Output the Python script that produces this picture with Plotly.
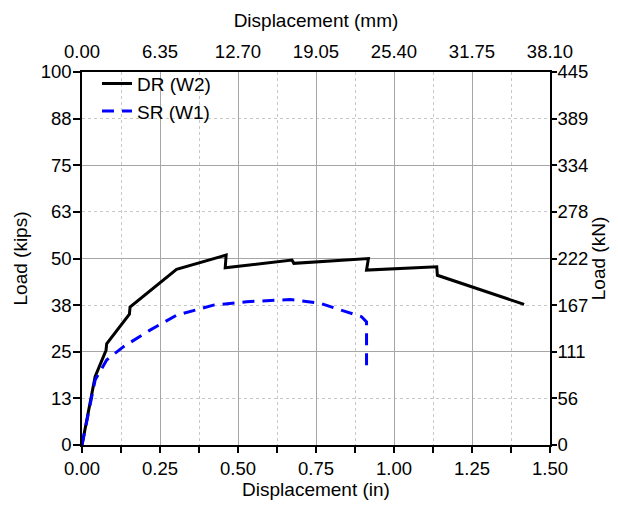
import plotly.graph_objects as go

# DR (W2) curve, displacement (in) vs load (kips)
dr_x = [0.0, 0.040, 0.042, 0.077, 0.079, 0.152, 0.154, 0.303, 0.462, 0.459, 0.673, 0.679, 0.918, 0.912, 1.137, 1.139, 1.417]
dr_y = [0.0, 17.5, 18.3, 25.4, 27.1, 35.1, 37.0, 47.1, 50.9, 47.5, 49.6, 48.7, 50.0, 46.9, 47.8, 45.5, 37.7]

# SR (W1) curve
sr_x = [0.0, 0.042, 0.079, 0.132, 0.218, 0.303, 0.421, 0.528, 0.667, 0.763, 0.848, 0.896, 0.912, 0.912]
sr_y = [0.0, 17.4, 22.8, 26.3, 30.8, 34.8, 37.5, 38.4, 39.0, 38.0, 35.7, 34.4, 33.0, 19.4]

# Axis ticks
in_ticks = [0.0, 0.25, 0.5, 0.75, 1.0, 1.25, 1.5]
mm_labels = ["0.00", "6.35", "12.70", "19.05", "25.40", "31.75", "38.10"]
kip_ticks = [0, 12.5, 25, 37.5, 50, 62.5, 75, 87.5, 100]
kip_labels = ["0", "13", "25", "38", "50", "63", "75", "88", "100"]
kn_labels = ["0", "56", "111", "167", "222", "278", "334", "389", "445"]

FONT = "Liberation Sans, Arial, sans-serif"
fs = 18.5
ts = 19

fig = go.Figure()
fig.add_trace(go.Scatter(x=dr_x, y=dr_y, mode="lines", name="DR (W2)",
                         line=dict(color="black", width=3)))
fig.add_trace(go.Scatter(x=sr_x, y=sr_y, mode="lines", name="SR (W1)",
                         line=dict(color="#0000ff", width=3, dash="12px,8px")))
# empty helper traces so the secondary axes are drawn
fig.add_trace(go.Scatter(x=[None], y=[None], xaxis="x2", yaxis="y2", mode="lines",
                         showlegend=False, hoverinfo="skip"))
fig.add_trace(go.Scatter(x=[None], y=[None], xaxis="x", yaxis="y3", mode="lines",
                         showlegend=False, hoverinfo="skip"))

fig.update_layout(
    width=610, height=504,
    margin=dict(l=74, r=68, t=64, b=67, autoexpand=False),
    paper_bgcolor="white", plot_bgcolor="white",
    font=dict(family=FONT, size=fs, color="black"),
    showlegend=True,
    legend=dict(x=0.032, y=1.02, xanchor="left", yanchor="top",
                bgcolor="rgba(0,0,0,0)", font=dict(size=ts), tracegroupgap=0),
    xaxis=dict(range=[0, 1.5], tickvals=in_ticks, tickformat=".2f", automargin=False,
               ticks="outside", ticklen=6, tickcolor="black", tickwidth=1.5,
               showline=True, linecolor="black", linewidth=1.5,
               showgrid=True, gridcolor="#a6a6a6", gridwidth=1,
               zeroline=False,
               minor=dict(dtick=0.125, tick0=0, ticks="outside", ticklen=6, tickcolor="black",
                          tickwidth=1.5, showgrid=True, gridcolor="#c8c8c8", griddash="dot"),
               title=dict(text="Displacement (in)", standoff=5, font=dict(size=ts)),
               tickfont=dict(size=fs)),
    xaxis2=dict(overlaying="x", side="top", anchor="y2", range=[0, 1.5], automargin=False,
                tickmode="array", tickvals=in_ticks, ticktext=mm_labels,
                ticks="outside", ticklen=5, tickcolor="rgba(0,0,0,0)",
                showline=True, linecolor="black", linewidth=1.5,
                showgrid=False, zeroline=False,
                title=dict(text="Displacement (mm)", standoff=8, font=dict(size=ts)),
                tickfont=dict(size=fs)),
    yaxis=dict(range=[0, 100], tickmode="array", tickvals=kip_ticks, ticktext=kip_labels,
               automargin=False,
               ticks="outside", ticklen=7, tickcolor="black", tickwidth=1.5,
               ticklabelstandoff=-2,
               showline=True, linecolor="black", linewidth=1.5,
               showgrid=False, zeroline=False,
               title=dict(text="Load (kips)", standoff=8, font=dict(size=ts)),
               tickfont=dict(size=fs)),
    yaxis2=dict(overlaying="y", side="right", anchor="x2", range=[0, 100],
                automargin=False,
                tickmode="array", tickvals=kip_ticks, ticktext=kn_labels,
                ticks="outside", ticklen=5, tickcolor="black", tickwidth=1.5,
                ticklabelstandoff=-3,
                showline=True, linecolor="black", linewidth=1.5,
                showgrid=False, zeroline=False,
                title=dict(text="Load (kN)", standoff=4, font=dict(size=ts)),
                tickfont=dict(size=fs)),
    yaxis3=dict(overlaying="y", side="left", anchor="x", range=[0, 100],
                automargin=False,
                dtick=25, tick0=0, showticklabels=False, ticks="",
                showline=False, zeroline=False,
                showgrid=True, gridcolor="#a6a6a6", gridwidth=1,
                minor=dict(dtick=12.5, tick0=0, showgrid=True, gridcolor="#c8c8c8", griddash="dot")),
)

fig.write_html("out.html")
